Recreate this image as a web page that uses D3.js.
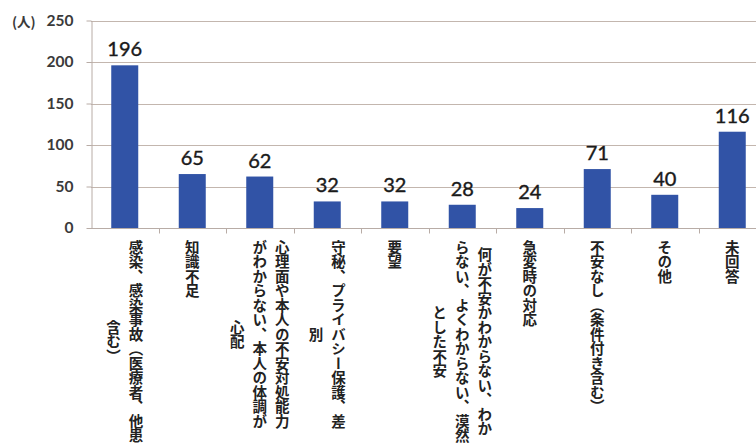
<!DOCTYPE html>
<html>
<head>
<meta charset="utf-8">
<script src="https://cdn.jsdelivr.net/npm/d3@7"></script>
<style>
  html, body { margin: 0; padding: 0; background: #fff; }
  svg { display: block; }
  .cat { font-family: "Noto Sans CJK JP", sans-serif; font-weight: 700; font-size: 14.5px; fill: #222;
         writing-mode: vertical-rl; text-orientation: mixed; }
</style>
</head>
<body>
<svg id="chart" width="756" height="446"></svg>
<script>
// Response categories (each entry lists the wrapped lines, right-most column first)
const categories = ["c1", "c2", "c3", "c4", "c5", "c6", "c7", "c8", "c9", "c10"];
const categoryLines = [
  ["感染、感染事故（医療者、他患", "含む）"],
  ["知識不足"],
  ["心理面や本人の不安対処能力", "がわからない、本人の体調が", "心配"],
  ["守秘、プライバシー保護、差", "別"],
  ["要望"],
  ["何が不安かわからない、わか", "らない、よくわからない、漠然", "とした不安"],
  ["急変時の対応"],
  ["不安なし（条件付き含む）"],
  ["その他"],
  ["未回答"]
];
// Number of respondents per category
const counts = [196, 65, 62, 32, 32, 28, 24, 71, 40, 116];
const yTicks = [0, 50, 100, 150, 200, 250];
const unitLabel = "(人)";

const svg = d3.select("#chart");
const W = 756;
const plotLeft = 91, plotTop = 20.5, plotBottom = 228;

const x = d3.scaleBand()
  .domain(categories)
  .range([plotLeft, plotLeft + 675])
  .paddingInner(0.6)
  .paddingOuter(0.3);

const y = d3.scaleLinear()
  .domain([0, 250])
  .range([plotBottom, plotTop]);

// horizontal gridlines (including the top border at 250)
svg.append("g")
  .selectAll("line")
  .data(yTicks.filter(d => d > 0))
  .join("line")
  .attr("x1", plotLeft).attr("x2", W)
  .attr("y1", d => Math.round(y(d)) + 0.5).attr("y2", d => Math.round(y(d)) + 0.5)
  .attr("stroke", "#c3b6ae").attr("stroke-width", 1);

// y axis
const yAxis = svg.append("g")
  .attr("transform", `translate(${plotLeft + 0.5},0)`)
  .call(d3.axisLeft(y).tickValues(yTicks).tickSize(5).tickPadding(13).tickSizeOuter(0));
yAxis.select(".domain").attr("stroke", "#b8aca6");
yAxis.selectAll(".tick line").attr("stroke", "#b8aca6");
yAxis.selectAll(".tick text")
  .attr("font-family", "Lato, sans-serif")
  .attr("font-weight", 700)
  .attr("font-size", "15.5px")
  .attr("fill", "#3a3a3a");

svg.append("text")
  .attr("x", 12).attr("y", 27)
  .attr("font-family", "'Noto Sans CJK JP', sans-serif")
  .attr("font-weight", 700)
  .attr("font-size", "13.5px")
  .attr("fill", "#3a3a3a")
  .text(unitLabel);

// bars
svg.append("g")
  .selectAll("rect")
  .data(counts)
  .join("rect")
  .attr("x", (d, i) => x(categories[i]))
  .attr("width", x.bandwidth())
  .attr("y", d => y(d))
  .attr("height", d => y(0) - y(d))
  .attr("fill", "#3153a6");

// value labels
svg.append("g")
  .selectAll("text")
  .data(counts)
  .join("text")
  .attr("x", (d, i) => x(categories[i]) + x.bandwidth() / 2)
  .attr("y", d => y(d) - 9)
  .attr("text-anchor", "middle")
  .attr("font-family", "Lato, sans-serif")
  .attr("font-size", "20px")
  .attr("fill", "#1a1a1a")
  .attr("stroke", "#1a1a1a")
  .attr("stroke-width", 0.4)
  .text(d => d);

// x axis baseline with ticks between categories
const xAxis = svg.append("g")
  .attr("transform", `translate(0,${plotBottom + 0.5})`);
xAxis.append("line")
  .attr("x1", plotLeft).attr("x2", W)
  .attr("stroke", "#b8aca6");
const step = x.step();
const boundaries = d3.range(1, categories.length).map(i => x(categories[i]) - step * x.paddingInner() / 2);
xAxis.selectAll("line.tick")
  .data(boundaries)
  .join("line")
  .attr("class", "tick")
  .attr("x1", d => Math.round(d) + 0.5).attr("x2", d => Math.round(d) + 0.5)
  .attr("y1", 0).attr("y2", 5)
  .attr("stroke", "#b8aca6");

// vertical category labels
const fs = 14.5, lineGap = 22.5, labelTop = 240;
const labels = svg.append("g");
categoryLines.forEach((lines, i) => {
  const cx = x(categories[i]) + x.bandwidth() / 2;
  const maxLen = d3.max(lines, l => l.length);
  const cy = labelTop + maxLen * fs / 2;
  lines.forEach((line, j) => {
    labels.append("text")
      .attr("class", "cat")
      .attr("x", cx + (lines.length - 1) / 2 * lineGap - j * lineGap)
      .attr("y", cy)
      .attr("text-anchor", "middle")
      .text(line);
  });
});
</script>
</body>
</html>
